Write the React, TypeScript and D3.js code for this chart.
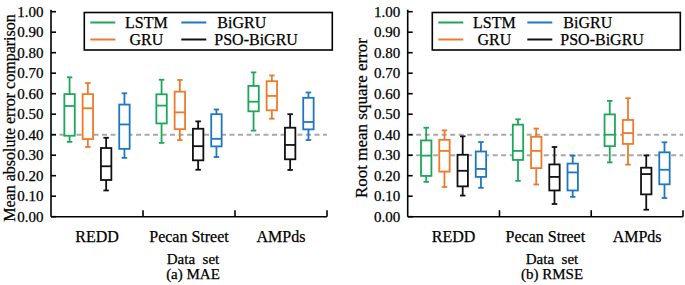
import React from "react";
import * as d3 from "d3";

// ---------- data ----------
const categories = ["REDD", "Pecan Street", "AMPds"];
const seriesNames = ["LSTM", "GRU", "PSO-BiGRU", "BiGRU"];
const legendCol1 = ["LSTM", "GRU"];
const legendCol2 = ["BiGRU", "PSO-BiGRU"];
const yTicks = [0, 0.1, 0.2, 0.3, 0.4, 0.5, 0.6, 0.7, 0.8, 0.9, 1.0];

// [min, q1, median, q3, max] per category
const maeLSTM = [[0.365, 0.395, 0.54, 0.598, 0.68], [0.36, 0.455, 0.542, 0.597, 0.668], [0.42, 0.514, 0.561, 0.638, 0.704]];
const maeGRU = [[0.34, 0.379, 0.529, 0.598, 0.652], [0.374, 0.427, 0.509, 0.61, 0.667], [0.478, 0.519, 0.589, 0.661, 0.689]];
const maePSO = [[0.128, 0.179, 0.246, 0.335, 0.385], [0.229, 0.275, 0.344, 0.429, 0.465], [0.228, 0.28, 0.35, 0.434, 0.5]];
const maeBiGRU = [[0.287, 0.331, 0.45, 0.547, 0.602], [0.291, 0.343, 0.38, 0.5, 0.523], [0.374, 0.426, 0.462, 0.58, 0.606]];

const rmseLSTM = [[0.17, 0.199, 0.298, 0.372, 0.434], [0.175, 0.277, 0.321, 0.449, 0.475], [0.265, 0.344, 0.4, 0.499, 0.565]];
const rmseGRU = [[0.145, 0.22, 0.321, 0.375, 0.421], [0.157, 0.237, 0.321, 0.39, 0.43], [0.254, 0.355, 0.408, 0.472, 0.578]];
const rmsePSO = [[0.103, 0.148, 0.224, 0.302, 0.392], [0.062, 0.128, 0.194, 0.255, 0.34], [0.034, 0.109, 0.208, 0.239, 0.299]];
const rmseBiGRU = [[0.141, 0.194, 0.233, 0.318, 0.364], [0.097, 0.128, 0.216, 0.259, 0.298], [0.091, 0.158, 0.229, 0.314, 0.363]];

const maeRefLines = [0.4];
const rmseRefLines = [0.4, 0.3];

const colors: Record<string, string> = {
  LSTM: "#1fa65a",
  GRU: "#ee7b2c",
  "PSO-BiGRU": "#111111",
  BiGRU: "#1f77c2",
};

const FONT = "'Liberation Serif', 'Times New Roman', serif";
const TXT = { fontFamily: FONT, fill: "#000", stroke: "#000", strokeWidth: 0.25 };

type PanelProps = {
  x0: number;
  x1: number;
  data: number[][][];
  refLines: number[];
  yLabel: string;
  yLabelX: number;
  yLabelSize: number;
  title: string;
  titleX: number;
  legendX: number;
  legendCol2Dx: number;
};

const Panel = (p: PanelProps) => {
  const yTop = 11.7;
  const yBot = 216.7;
  const y = d3.scaleLinear().domain([0, 1]).range([yBot, yTop]);
  const xg = d3.scaleBand().domain(categories).range([p.x0, p.x1]).paddingInner(0).paddingOuter(0);
  const xs = d3
    .scaleBand()
    .domain(seriesNames)
    .range([0, xg.bandwidth()])
    .paddingInner(0.43)
    .paddingOuter(0.73);
  const bw = xs.bandwidth();
  const cap = 5.5;
  const ly = 12.5;
  const lx = p.legendX;
  return (
    <g>
      {p.refLines.map((v) => (
        <line
          key={"r" + v}
          x1={p.x0}
          x2={p.x1}
          y1={y(v)}
          y2={y(v)}
          stroke="#a9a9a9"
          strokeWidth={2}
          strokeDasharray="5,3.5"
        />
      ))}
      {categories.map((c, ci) =>
        seriesNames.map((s, si) => {
          const [mn, q1, md, q3, mx] = p.data[si][ci];
          const bx = (xg(c) as number) + (xs(s) as number);
          const cx = bx + bw / 2;
          const col = colors[s];
          return (
            <g key={c + s} stroke={col} strokeWidth={1.8} fill="none">
              <line x1={cx} x2={cx} y1={y(mx)} y2={y(q3)} />
              <line x1={cx} x2={cx} y1={y(q1)} y2={y(mn)} />
              <line x1={cx - cap / 2} x2={cx + cap / 2} y1={y(mx)} y2={y(mx)} />
              <line x1={cx - cap / 2} x2={cx + cap / 2} y1={y(mn)} y2={y(mn)} />
              <rect x={bx} y={y(q3)} width={bw} height={y(q1) - y(q3)} fill="#fff" />
              <line x1={bx} x2={bx + bw} y1={y(md)} y2={y(md)} />
            </g>
          );
        })
      )}
      <line x1={p.x0} x2={p.x0} y1={yTop - 2} y2={yBot} stroke="#000" strokeWidth={1.6} />
      <line x1={p.x0} x2={p.x1} y1={yBot} y2={yBot} stroke="#000" strokeWidth={1.6} />
      {yTicks.map((t) => (
        <g key={"yt" + t}>
          <line x1={p.x0} x2={p.x0 + 5} y1={y(t)} y2={y(t)} stroke="#000" strokeWidth={1.6} />
          <text x={p.x0 - 7.5} y={y(t)} dy="0.34em" textAnchor="end" fontSize={15} {...TXT}>
            {t.toFixed(2)}
          </text>
        </g>
      ))}
      {categories.map((c) => (
        <g key={"xt" + c}>
          <line
            x1={(xg(c) as number) + xg.bandwidth()}
            x2={(xg(c) as number) + xg.bandwidth()}
            y1={yBot}
            y2={yBot - 6.5}
            stroke="#000"
            strokeWidth={1.6}
          />
          <text x={(xg(c) as number) + xg.bandwidth() / 2} y={241.5} textAnchor="middle" fontSize={16} {...TXT}>
            {c}
          </text>
        </g>
      ))}
      <text x={p.titleX} y={263.5} textAnchor="middle" fontSize={15} {...TXT} style={{ whiteSpace: "pre" }}>
        {"Data  set"}
      </text>
      <text x={p.titleX} y={279} textAnchor="middle" fontSize={15} {...TXT}>
        {p.title}
      </text>
      <text
        transform={`translate(${p.yLabelX},118) rotate(-90)`}
        textAnchor="middle"
        fontSize={p.yLabelSize}
        {...TXT}
      >
        {p.yLabel}
      </text>
      <rect x={lx} y={ly} width={248} height={37.5} fill="#fff" stroke="#000" strokeWidth={1.6} />
      {legendCol1.map((s, i) => (
        <g key={"l1" + s}>
          <line x1={lx + 6} x2={lx + 31} y1={ly + 10 + i * 17} y2={ly + 10 + i * 17} stroke={colors[s]} strokeWidth={2} />
          <text x={lx + 62} y={ly + 10 + i * 17 + 5.5} textAnchor="middle" fontSize={16} {...TXT}>
            {s}
          </text>
        </g>
      ))}
      {legendCol2.map((s, i) => (
        <g key={"l2" + s}>
          <line
            x1={lx + p.legendCol2Dx}
            x2={lx + p.legendCol2Dx + 25}
            y1={ly + 10 + i * 17}
            y2={ly + 10 + i * 17}
            stroke={colors[s]}
            strokeWidth={2}
          />
          <text x={lx + p.legendCol2Dx + 34 + (i === 0 ? 2 : -1)} y={ly + 10 + i * 17 + 5.5} fontSize={16} {...TXT}>
            {s}
          </text>
        </g>
      ))}
    </g>
  );
};

export default function App() {
  const maeData = [maeLSTM, maeGRU, maePSO, maeBiGRU];
  const rmseData = [rmseLSTM, rmseGRU, rmsePSO, rmseBiGRU];
  return (
    <svg width={685} height={285} style={{ position: "absolute", left: 0, top: 0, background: "#fff" }}>
      <rect x={0} y={0} width={685} height={285} fill="#fff" />
      <Panel
        x0={51}
        x1={327}
        data={maeData}
        refLines={maeRefLines}
        yLabel="Mean absolute error comparison"
        yLabelX={14.5}
        yLabelSize={16}
        title="(a) MAE"
        titleX={193}
        legendX={84.3}
        legendCol2Dx={97}
      />
      <Panel
        x0={407.7}
        x1={683}
        data={rmseData}
        refLines={rmseRefLines}
        yLabel="Root mean square error"
        yLabelX={367}
        yLabelSize={17}
        title="(b) RMSE"
        titleX={552}
        legendX={432.3}
        legendCol2Dx={95}
      />
    </svg>
  );
}
